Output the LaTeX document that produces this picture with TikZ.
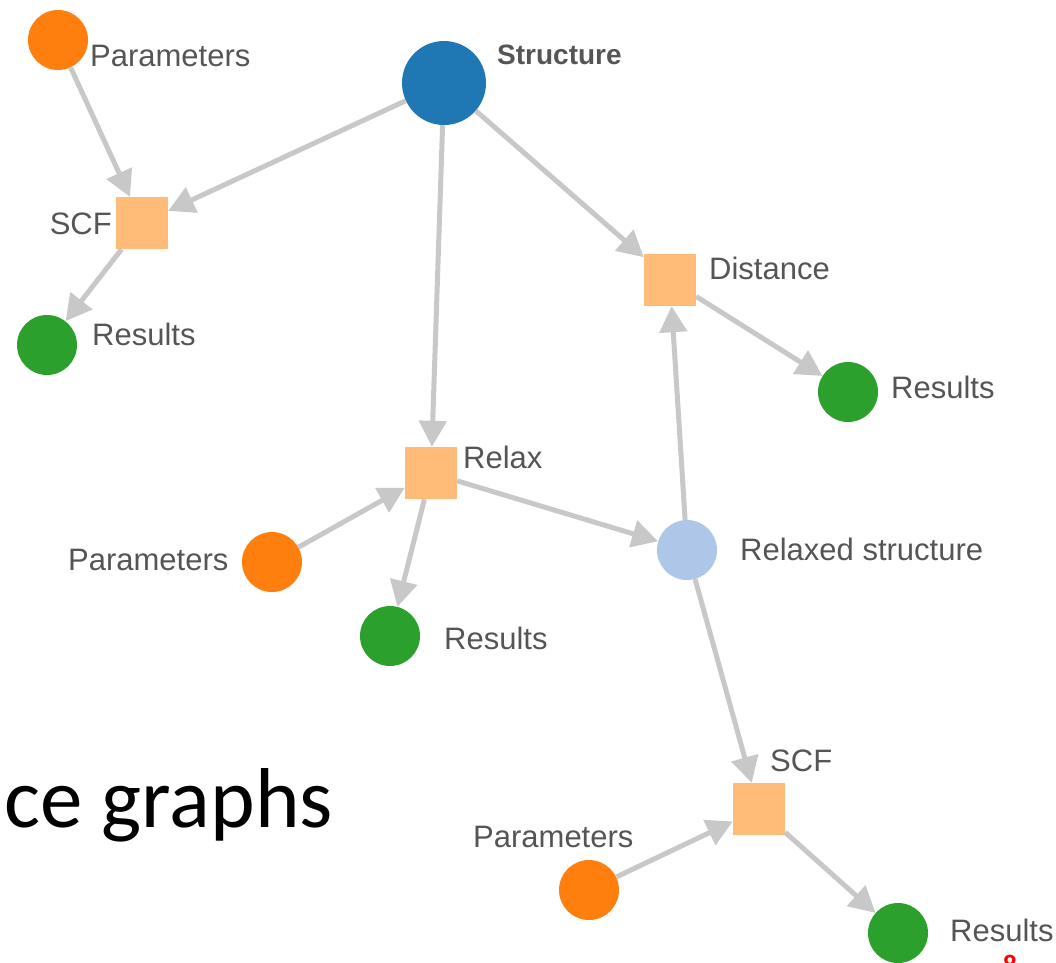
\documentclass[tikz,border=0pt]{standalone}
\usepackage{fontspec}
\setmainfont{Liberation Sans}
\newfontfamily\slidefont{Carlito}
\usetikzlibrary{arrows.meta}
\definecolor{paramcol}{HTML}{FF7F0E}
\definecolor{structcol}{HTML}{1F77B4}
\definecolor{rescol}{HTML}{2CA02C}
\definecolor{relaxcol}{HTML}{AEC7E8}
\definecolor{calccol}{HTML}{FFBB78}
\definecolor{edgecol}{HTML}{C8C8C8}
\definecolor{txtcol}{HTML}{555555}

\begin{document}
\begin{tikzpicture}[x=1pt,y=-1pt,
    param/.style={circle,fill=paramcol,minimum size=60pt,inner sep=0pt},
    res/.style={circle,fill=rescol,minimum size=60pt,inner sep=0pt},
    data/.style={circle,fill=relaxcol,minimum size=60pt,inner sep=0pt},
    calc/.style={rectangle,fill=calccol,minimum size=52pt,inner sep=0pt},
    lbl/.style={anchor=base west,inner sep=0pt,text=txtcol,font=\fontsize{31}{36}\selectfont},
    edge/.style={draw=edgecol,line width=5pt,-{Triangle[length=26pt,width=27pt]}}]
            \useasboundingbox (0,0) rectangle (1056,962);
            % nodes
            \draw (444, 83) node[circle,fill=structcol,minimum size=84pt,inner sep=0pt](s){};
            \draw (58, 40) node[param](p1){};
            \draw (142, 223) node[calc](c1){};
            \draw (47, 345) node[res](r1){};
            \draw (670, 280) node[calc](d){};
            \draw (848, 392) node[res](r2){};
            \draw (431, 473) node[calc](x){};
            \draw (272, 562) node[param](p2){};
            \draw (390, 636) node[res](r3){};
            \draw (687, 550) node[data](rs){};
            \draw (759, 809) node[calc](c2){};
            \draw (589, 890) node[param](p3){};
            \draw (898, 933) node[res](r4){};
            % labels
            \draw (497, 64) node[lbl,font=\bfseries\fontsize{28}{33}\selectfont](ls){Structure};
            \draw (90, 66) node[lbl](lp1){Parameters};
            \draw (112, 234) node[lbl,anchor=base east](lc1){SCF};
            \draw (92, 345) node[lbl](lr1){Results};
            \draw (709, 279) node[lbl](ld){Distance};
            \draw (891, 398) node[lbl](lr2){Results};
            \draw (463, 468) node[lbl](lx){Relax};
            \draw (68, 570) node[lbl](lp2){Parameters};
            \draw (444, 649) node[lbl](lr3){Results};
            \draw (740, 560) node[lbl](lrs){Relaxed structure};
            \draw (770, 771) node[lbl](lc2){SCF};
            \draw (473, 847) node[lbl](lp3){Parameters};
            \draw (950, 941) node[lbl](lr4){Results};
            \draw (4, 827) node[anchor=base west,inner sep=0pt,font=\slidefont\fontsize{85}{100}\selectfont](title){ce graphs};
            \draw (1010, 955) node[anchor=north,inner sep=0pt,text=red,font=\slidefont\bfseries\fontsize{28}{34}\selectfont](pg){8};
            % connectors
            \draw[edge] (p1) -- (c1);
            \draw[edge] (s) -- (c1);
            \draw[edge] (c1) -- (r1);
            \draw[edge] (s) -- (d);
            \draw[edge] (s) -- (x);
            \draw[edge] (d) -- (r2);
            \draw[edge] (rs) -- (d);
            \draw[edge] (p2) -- (x);
            \draw[edge] (x) -- (r3);
            \draw[edge] (x) -- (rs);
            \draw[edge] (rs) -- (c2);
            \draw[edge] (p3) -- (c2);
            \draw[edge] (c2) -- (r4);
        \end{tikzpicture}
\end{document}
